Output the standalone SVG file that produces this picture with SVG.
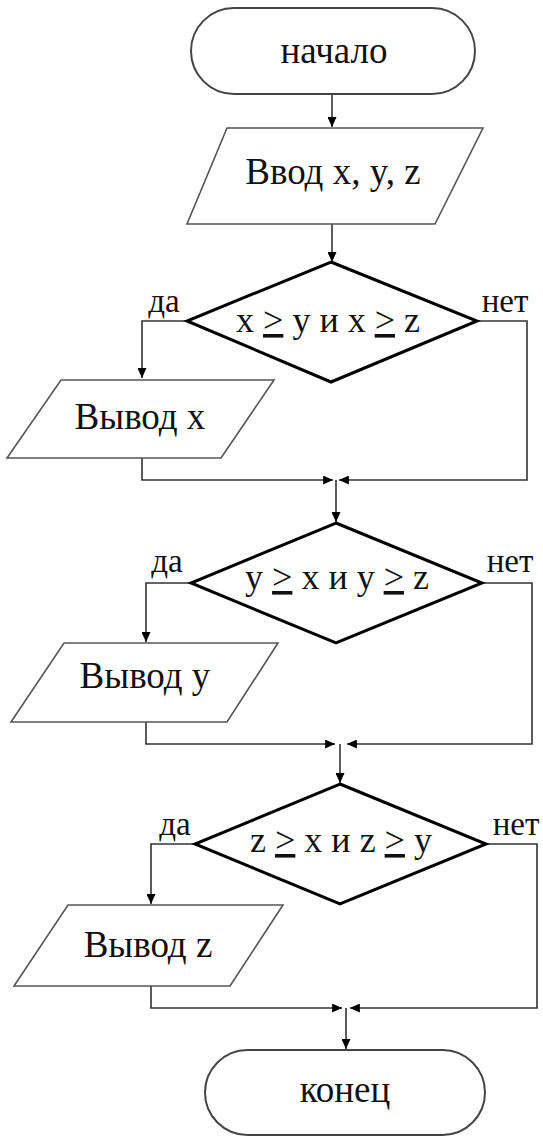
<svg xmlns="http://www.w3.org/2000/svg" width="543" height="1137" viewBox="0 0 543 1137">
<style>
.t{font-family:"Liberation Serif","Times New Roman",serif;font-size:37px;fill:#111;text-anchor:middle}
.d{font-family:"Liberation Serif","Times New Roman",serif;font-size:36px;fill:#111;text-anchor:middle}
.l{font-family:"Liberation Serif","Times New Roman",serif;font-size:33px;fill:#111;text-anchor:middle}
.term{fill:#fff;stroke:#444;stroke-width:2}
.io{fill:#fff;stroke:#555;stroke-width:1.6}
.dec{fill:#fff;stroke:#000;stroke-width:3}
.c{fill:none;stroke:#333;stroke-width:1.6}
</style>
<defs>
<marker id="a" viewBox="0 0 11 10" refX="11" refY="5" markerWidth="11" markerHeight="9" markerUnits="userSpaceOnUse" orient="auto">
<path d="M0,0 L11,5 L0,10 z" fill="#000"/>
</marker>
</defs>
<g id="connectors">
<line class="c" x1="332" y1="94" x2="332" y2="127" marker-end="url(#a)"/>
<line class="c" x1="332" y1="224" x2="332" y2="262" marker-end="url(#a)"/>
<polyline class="c" points="187,321 142,321 142,378" marker-end="url(#a)"/>
<polyline class="c" points="142,458 142,480 333,480" marker-end="url(#a)"/>
<polyline class="c" points="477,321 527,321 527,480 339,480" marker-end="url(#a)"/>
<line class="c" x1="336" y1="480" x2="336" y2="522" marker-end="url(#a)"/>
<polyline class="c" points="191,583 146,583 146,642" marker-end="url(#a)"/>
<polyline class="c" points="146,722 146,744 335,744" marker-end="url(#a)"/>
<polyline class="c" points="482,583 532,583 532,744 347,744" marker-end="url(#a)"/>
<line class="c" x1="340" y1="744" x2="340" y2="783" marker-end="url(#a)"/>
<polyline class="c" points="195,844 151,844 151,904" marker-end="url(#a)"/>
<polyline class="c" points="151,986 151,1008 342,1008" marker-end="url(#a)"/>
<polyline class="c" points="486,844 537,844 537,1008 350,1008" marker-end="url(#a)"/>
<line class="c" x1="346" y1="1008" x2="346" y2="1049" marker-end="url(#a)"/>
</g>
<g id="start">
<rect class="term" x="191" y="8" width="284" height="86" rx="43" ry="43"/>
<text class="t" x="334" y="63">начало</text>
</g>
<g id="input">
<polygon class="io" points="227,128 483,128 435,224 187,224"/>
<text class="t" x="333" y="184">Ввод x, y, z</text>
</g>
<g id="dec1">
<polygon class="dec" points="331,262 477,321 331,382 187,321"/>
<text class="d" x="328" y="332">x <tspan text-decoration="underline">&gt;</tspan> y и x <tspan text-decoration="underline">&gt;</tspan> z</text>
<text class="l" x="164" y="312">да</text>
<text class="l" x="505" y="312">нет</text>
</g>
<g id="out1">
<polygon class="io" points="61,380 274,380 221,458 7,458"/>
<text class="t" x="140" y="429">Вывод x</text>
</g>
<g id="dec2">
<polygon class="dec" points="336,523 482,583 336,643 191,583"/>
<text class="d" x="337" y="589">y <tspan text-decoration="underline">&gt;</tspan> x и y <tspan text-decoration="underline">&gt;</tspan> z</text>
<text class="l" x="167" y="572">да</text>
<text class="l" x="510" y="572">нет</text>
</g>
<g id="out2">
<polygon class="io" points="64,643 278,643 227,722 11,722"/>
<text class="t" x="145" y="688">Вывод y</text>
</g>
<g id="dec3">
<polygon class="dec" points="340,784 486,844 340,904 195,844"/>
<text class="d" x="341" y="852">z <tspan text-decoration="underline">&gt;</tspan> x и z <tspan text-decoration="underline">&gt;</tspan> y</text>
<text class="l" x="175" y="835">да</text>
<text class="l" x="516" y="835">нет</text>
</g>
<g id="out3">
<polygon class="io" points="68,905 283,905 230,986 14,986"/>
<text class="t" x="148" y="957">Вывод z</text>
</g>
<g id="end">
<rect class="term" x="205" y="1050" width="280" height="85" rx="42.5" ry="42.5"/>
<text class="t" x="345" y="1102">конец</text>
</g>
</svg>
